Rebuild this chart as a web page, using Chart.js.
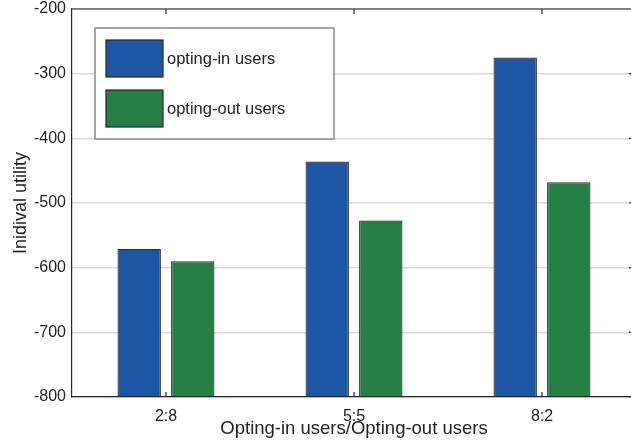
<!DOCTYPE html>
<html><head><meta charset="utf-8">
<script src="https://cdn.jsdelivr.net/npm/chart.js@4/dist/chart.umd.min.js"></script>
<style>html,body{margin:0;padding:0;background:#fff;overflow:hidden}canvas{display:block}</style>
</head><body>
<canvas id="c" width="636" height="442"></canvas>
<script>
const categories = ["2:8", "5:5", "8:2"];
const optingIn = [-571, -436, -275];
const optingOut = [-590, -527, -468];
const seriesNames = ["opting-in users", "opting-out users"];
const yTicks = [-800, -700, -600, -500, -400, -300, -200];
const xTitle = "Opting-in users/Opting-out users";
const yTitle = "Inidival utility";

const FONT = "'Liberation Sans', Arial, sans-serif";

const framePlugin = {
  id: 'frame',
  afterDatasetsDraw(chart) {
    const {ctx, chartArea: a, scales} = chart;
    ctx.save();
    ctx.strokeStyle = '#262626';
    ctx.lineWidth = 1.2;
    ctx.beginPath();
    ctx.moveTo(a.left, a.top); ctx.lineTo(a.right, a.top);
    categories.forEach((c, i) => {
      const x = scales.x.getPixelForValue(i);
      ctx.moveTo(x, a.top); ctx.lineTo(x, a.top + 5);
      ctx.moveTo(x, a.bottom); ctx.lineTo(x, a.bottom - 5);
    });
    yTicks.forEach(v => {
      const y = scales.y.getPixelForValue(v);
      ctx.moveTo(a.right, y); ctx.lineTo(a.right - 7, y);
    });
    ctx.stroke();
    ctx.restore();
  },
  afterDraw(chart) {
    const {ctx, chartArea: a} = chart;
    const bx = a.left + 23, by = a.top + 19, bw = 239, bh = 111;
    ctx.save();
    ctx.fillStyle = '#fff';
    ctx.fillRect(bx, by, bw, bh);
    ctx.strokeStyle = '#8a8a8a';
    ctx.lineWidth = 1.5;
    ctx.strokeRect(bx, by, bw, bh);
    chart.data.datasets.forEach((ds, i) => {
      const sx = bx + 11, sy = by + 12 + i * 50;
      ctx.fillStyle = ds.backgroundColor;
      ctx.fillRect(sx, sy, 57, 37);
      ctx.strokeStyle = '#262626';
      ctx.lineWidth = 1.2;
      ctx.strokeRect(sx, sy, 57, 37);
      ctx.fillStyle = '#222';
      ctx.font = '16.5px ' + FONT;
      ctx.textBaseline = 'middle';
      ctx.textAlign = 'left';
      ctx.fillText(ds.label, sx + 61, sy + 19);
    });
    ctx.restore();
  }
};

new Chart(document.getElementById('c'), {
  type: 'bar',
  data: {
    labels: categories,
    datasets: [
      {label: seriesNames[0], data: optingIn, base: yTicks[0], backgroundColor: '#1d56a5', borderColor: '#2a2a2a', borderWidth: 1.2, categoryPercentage: 0.57, barPercentage: 0.81},
      {label: seriesNames[1], data: optingOut, base: yTicks[0], backgroundColor: '#268045', borderColor: '#2a2a2a', borderWidth: 1.2, categoryPercentage: 0.57, barPercentage: 0.81}
    ]
  },
  options: {
    responsive: false,
    animation: false,
    devicePixelRatio: 1,
    layout: {padding: {top: 9, right: 0, left: 0, bottom: 0}},
    plugins: {legend: {display: false}, tooltip: {enabled: false}},
    scales: {
      x: {
        offset: true,
        grid: {display: false, drawTicks: false},
        border: {display: true, color: '#262626', width: 1.2},
        ticks: {color: '#222', font: {family: FONT, size: 16}, padding: 10},
        title: {display: true, text: xTitle, color: '#222', font: {family: FONT, size: 18.5}, padding: {top: 0, bottom: 2}},
        afterFit(s) { s.height = 45; s.paddingLeft = 0; s.paddingRight = 0; }
      },
      y: {
        min: yTicks[0], max: yTicks[yTicks.length - 1],
        afterBuildTicks(s) { s.ticks = yTicks.map(v => ({value: v})); },
        grid: {color: '#d9d9d9', lineWidth: 1.6, drawTicks: false},
        border: {display: true, color: '#262626', width: 1.2},
        ticks: {color: '#222', font: {family: FONT, size: 16}, padding: 6},
        title: {display: true, text: yTitle, color: '#222', font: {family: FONT, size: 18}, padding: {top: 10, bottom: 0}},
        afterFit(s) { s.width = 72; s.paddingTop = 0; s.paddingBottom = 0; }
      }
    }
  },
  plugins: [framePlugin]
});
</script>
</body></html>
